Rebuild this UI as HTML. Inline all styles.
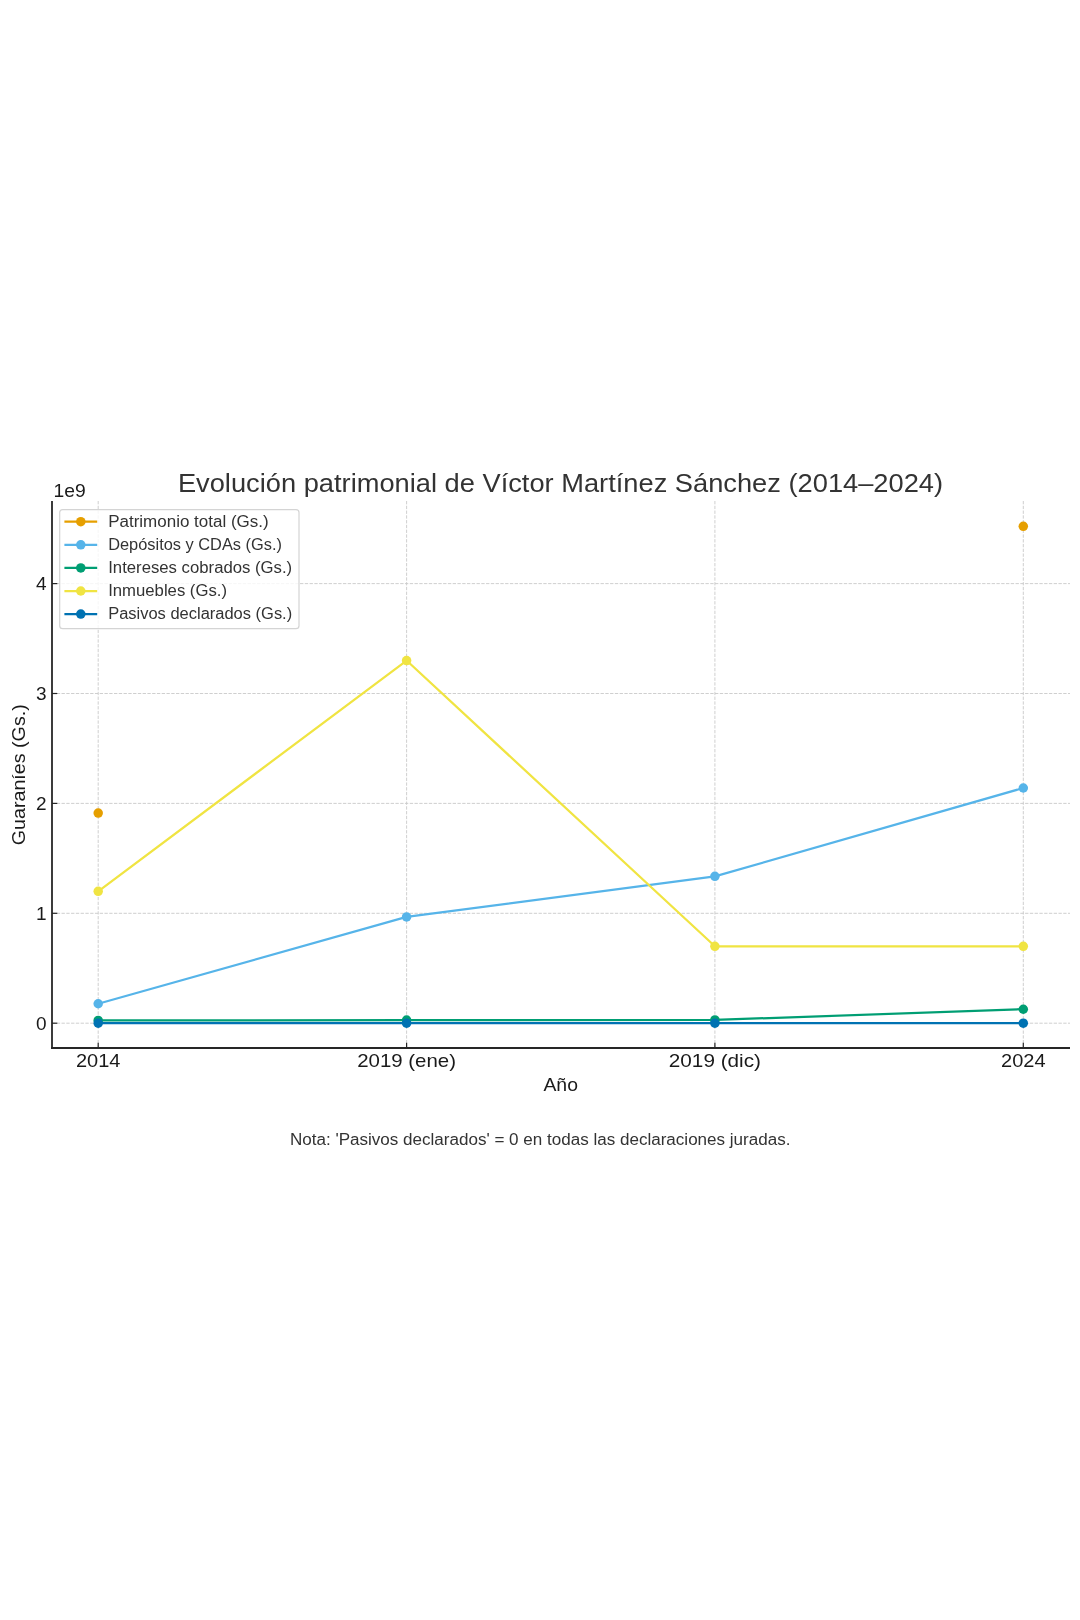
<!DOCTYPE html><html><head><meta charset="utf-8"><style>html,body{margin:0;padding:0;background:#fff;}svg{display:block;will-change:transform;}text{font-family:"Liberation Sans",sans-serif;}</style></head><body>
<svg width="1080" height="1620" viewBox="0 0 1080 1620">
<rect x="0" y="0" width="1080" height="1620" fill="#ffffff"/>
<g stroke="#cacaca" stroke-width="0.9" stroke-dasharray="3.33 1.44" fill="none"><line x1="52.0" y1="1023.20" x2="1070.0" y2="1023.20"/><line x1="52.0" y1="913.30" x2="1070.0" y2="913.30"/><line x1="52.0" y1="803.40" x2="1070.0" y2="803.40"/><line x1="52.0" y1="693.50" x2="1070.0" y2="693.50"/><line x1="52.0" y1="583.60" x2="1070.0" y2="583.60"/><line x1="98.2" y1="501.0" x2="98.2" y2="1048.0"/><line x1="406.6" y1="501.0" x2="406.6" y2="1048.0"/><line x1="714.9" y1="501.0" x2="714.9" y2="1048.0"/><line x1="1023.3" y1="501.0" x2="1023.3" y2="1048.0"/></g>
<circle cx="98.20" cy="813.07" r="4.75" fill="#E69F00"/>
<circle cx="1023.30" cy="526.34" r="4.75" fill="#E69F00"/>
<path d="M98.20,1003.75 L406.60,916.93 L714.90,876.37 L1023.30,788.01" fill="none" stroke="#56B4E9" stroke-width="2.25" stroke-linejoin="round" stroke-linecap="butt"/>
<circle cx="98.20" cy="1003.75" r="4.75" fill="#56B4E9"/>
<circle cx="406.60" cy="916.93" r="4.75" fill="#56B4E9"/>
<circle cx="714.90" cy="876.37" r="4.75" fill="#56B4E9"/>
<circle cx="1023.30" cy="788.01" r="4.75" fill="#56B4E9"/>
<path d="M98.20,1020.45 L406.60,1020.12 L714.90,1019.90 L1023.30,1009.24" fill="none" stroke="#009E73" stroke-width="2.25" stroke-linejoin="round" stroke-linecap="butt"/>
<circle cx="98.20" cy="1020.45" r="4.75" fill="#009E73"/>
<circle cx="406.60" cy="1020.12" r="4.75" fill="#009E73"/>
<circle cx="714.90" cy="1019.90" r="4.75" fill="#009E73"/>
<circle cx="1023.30" cy="1009.24" r="4.75" fill="#009E73"/>
<path d="M98.20,891.32 L406.60,660.53 L714.90,946.27 L1023.30,946.27" fill="none" stroke="#F0E442" stroke-width="2.25" stroke-linejoin="round" stroke-linecap="butt"/>
<circle cx="98.20" cy="891.32" r="4.75" fill="#F0E442"/>
<circle cx="406.60" cy="660.53" r="4.75" fill="#F0E442"/>
<circle cx="714.90" cy="946.27" r="4.75" fill="#F0E442"/>
<circle cx="1023.30" cy="946.27" r="4.75" fill="#F0E442"/>
<path d="M98.20,1023.20 L406.60,1023.20 L714.90,1023.20 L1023.30,1023.20" fill="none" stroke="#0072B2" stroke-width="2.25" stroke-linejoin="round" stroke-linecap="butt"/>
<circle cx="98.20" cy="1023.20" r="4.75" fill="#0072B2"/>
<circle cx="406.60" cy="1023.20" r="4.75" fill="#0072B2"/>
<circle cx="714.90" cy="1023.20" r="4.75" fill="#0072B2"/>
<circle cx="1023.30" cy="1023.20" r="4.75" fill="#0072B2"/>
<g stroke="#262626" fill="none"><line x1="52.0" y1="501.0" x2="52.0" y2="1049.0" stroke-width="1.8"/><line x1="51.1" y1="1048.0" x2="1070.0" y2="1048.0" stroke-width="1.8"/></g>
<g stroke="#262626" stroke-width="1.2"><line x1="52.0" y1="1023.20" x2="57.3" y2="1023.20"/><line x1="52.0" y1="913.30" x2="57.3" y2="913.30"/><line x1="52.0" y1="803.40" x2="57.3" y2="803.40"/><line x1="52.0" y1="693.50" x2="57.3" y2="693.50"/><line x1="52.0" y1="583.60" x2="57.3" y2="583.60"/><line x1="98.2" y1="1048.0" x2="98.2" y2="1042.7"/><line x1="406.6" y1="1048.0" x2="406.6" y2="1042.7"/><line x1="714.9" y1="1048.0" x2="714.9" y2="1042.7"/><line x1="1023.3" y1="1048.0" x2="1023.3" y2="1042.7"/></g>
<rect x="59.7" y="509.6" width="239.3" height="119.1" rx="3" ry="3" fill="#ffffff" fill-opacity="0.8" stroke="#d4d4d4" stroke-width="1.2"/>
<line x1="64.4" y1="521.70" x2="97.2" y2="521.70" stroke="#E69F00" stroke-width="2.25"/>
<circle cx="80.8" cy="521.70" r="4.75" fill="#E69F00"/>
<text x="108.2" y="526.70" font-size="15.6" fill="#333333" textLength="160.5" lengthAdjust="spacingAndGlyphs">Patrimonio total (Gs.)</text>
<line x1="64.4" y1="544.80" x2="97.2" y2="544.80" stroke="#56B4E9" stroke-width="2.25"/>
<circle cx="80.8" cy="544.80" r="4.75" fill="#56B4E9"/>
<text x="108.2" y="549.80" font-size="15.6" fill="#333333" textLength="173.8" lengthAdjust="spacingAndGlyphs">Depósitos y CDAs (Gs.)</text>
<line x1="64.4" y1="567.90" x2="97.2" y2="567.90" stroke="#009E73" stroke-width="2.25"/>
<circle cx="80.8" cy="567.90" r="4.75" fill="#009E73"/>
<text x="108.2" y="572.90" font-size="15.6" fill="#333333" textLength="184.0" lengthAdjust="spacingAndGlyphs">Intereses cobrados (Gs.)</text>
<line x1="64.4" y1="591.00" x2="97.2" y2="591.00" stroke="#F0E442" stroke-width="2.25"/>
<circle cx="80.8" cy="591.00" r="4.75" fill="#F0E442"/>
<text x="108.2" y="596.00" font-size="15.6" fill="#333333" textLength="118.8" lengthAdjust="spacingAndGlyphs">Inmuebles (Gs.)</text>
<line x1="64.4" y1="614.10" x2="97.2" y2="614.10" stroke="#0072B2" stroke-width="2.25"/>
<circle cx="80.8" cy="614.10" r="4.75" fill="#0072B2"/>
<text x="108.2" y="619.10" font-size="15.6" fill="#333333" textLength="184.0" lengthAdjust="spacingAndGlyphs">Pasivos declarados (Gs.)</text>
<text x="46.6" y="1030.00" font-size="19" fill="#1a1a1a" text-anchor="end">0</text>
<text x="46.6" y="920.10" font-size="19" fill="#1a1a1a" text-anchor="end">1</text>
<text x="46.6" y="810.20" font-size="19" fill="#1a1a1a" text-anchor="end">2</text>
<text x="46.6" y="700.30" font-size="19" fill="#1a1a1a" text-anchor="end">3</text>
<text x="46.6" y="590.40" font-size="19" fill="#1a1a1a" text-anchor="end">4</text>
<text x="98.20" y="1067.3" font-size="19" fill="#1a1a1a" text-anchor="middle" textLength="44.5" lengthAdjust="spacingAndGlyphs">2014</text>
<text x="406.60" y="1067.3" font-size="19" fill="#1a1a1a" text-anchor="middle" textLength="98.8" lengthAdjust="spacingAndGlyphs">2019 (ene)</text>
<text x="714.90" y="1067.3" font-size="19" fill="#1a1a1a" text-anchor="middle" textLength="92.2" lengthAdjust="spacingAndGlyphs">2019 (dic)</text>
<text x="1023.30" y="1067.3" font-size="19" fill="#1a1a1a" text-anchor="middle" textLength="44.5" lengthAdjust="spacingAndGlyphs">2024</text>
<text x="53.6" y="496.7" font-size="19" fill="#1a1a1a" textLength="32.2" lengthAdjust="spacingAndGlyphs">1e9</text>
<text x="560.7" y="1091.4" font-size="19" fill="#1a1a1a" text-anchor="middle" textLength="34.5" lengthAdjust="spacingAndGlyphs">Año</text>
<text transform="translate(25.2,774.75) rotate(-90)" x="0" y="0" font-size="19" fill="#1a1a1a" text-anchor="middle" textLength="141" lengthAdjust="spacingAndGlyphs">Guaraníes (Gs.)</text>
<text x="560.5" y="492.0" font-size="25.3" fill="#333333" text-anchor="middle" textLength="765.2" lengthAdjust="spacingAndGlyphs">Evolución patrimonial de Víctor Martínez Sánchez (2014–2024)</text>
<text x="540.2" y="1144.5" font-size="16" fill="#333333" text-anchor="middle" textLength="500.5" lengthAdjust="spacingAndGlyphs">Nota: 'Pasivos declarados' = 0 en todas las declaraciones juradas.</text>
</svg></body></html>
